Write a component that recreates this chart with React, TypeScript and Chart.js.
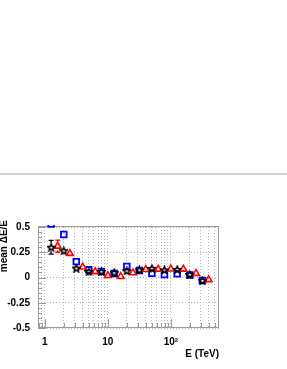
import React, { useEffect, useRef } from "react";
import { Chart, registerables } from "chart.js";

Chart.register(...registerables);

// ---- data ----
const energyBlack = [1.26, 2.0, 3.16, 5.0, 7.9, 12.6, 20, 31.6, 50, 79, 126, 200, 316];
const biasBlack = [0.3, 0.265, 0.093, 0.059, 0.059, 0.048, 0.066, 0.076, 0.09, 0.075, 0.08, 0.03, -0.03];
const errBlack = [0.068, 0, 0, 0, 0, 0, 0, 0, 0, 0, 0, 0, 0];

const energyRed = [1.6, 2.5, 4.0, 6.3, 10, 16, 25, 40, 63, 100, 158, 251, 398];
const biasRed = [0.31, 0.238, 0.103, 0.058, 0.02, 0.01, 0.047, 0.078, 0.082, 0.083, 0.082, 0.04, -0.022];
const errRed = [0.06, 0, 0, 0, 0, 0, 0, 0, 0, 0, 0, 0, 0];

const energyBlue = [1.26, 2.0, 3.16, 5.0, 7.9, 12.6, 20, 31.6, 50, 79, 126, 200, 316];
const biasBlue = [0.53, 0.426, 0.157, 0.076, 0.059, 0.039, 0.11, 0.07, 0.042, 0.03, 0.037, 0.025, -0.03];

const xTickValues = [0.8, 0.9, 1, 2, 3, 4, 5, 6, 7, 8, 9, 10, 20, 30, 40, 50, 60, 70, 80, 90, 100, 200, 300, 400, 500];
const xLabelValues = [1, 10, 100];
const xLabelTexts = ["1", "10", "10\u00B2"];

const yTickValues = [-0.5, -0.25, 0, 0.25, 0.5];
const yTickLabels = ["-0.5", "-0.25", "0", "0.25", "0.5"];

const X_MIN = 0.78;
const X_MAX = 580;
const Y_MIN = -0.5;
const Y_MAX = 0.5;

const xTitle = "E (TeV)";
const yTitle = "mean \u0394E/E";

const FONT = "'Liberation Sans', Arial, Helvetica, sans-serif";

function makeStar(size: number, color: string, lw: number) {
  const c = document.createElement("canvas");
  c.width = size;
  c.height = size;
  const g = c.getContext("2d")!;
  const cx = size / 2;
  const cy = size / 2 + 0.4;
  const R = size / 2 - lw / 2 - 0.1;
  const r = R * 0.48;
  g.beginPath();
  for (let i = 0; i < 10; i++) {
    const a = -Math.PI / 2 + (i * Math.PI) / 5;
    const rr = i % 2 ? r : R;
    const px = cx + rr * Math.cos(a);
    const py = cy + rr * Math.sin(a);
    if (i === 0) g.moveTo(px, py);
    else g.lineTo(px, py);
  }
  g.closePath();
  g.lineWidth = lw;
  g.strokeStyle = color;
  g.stroke();
  return c;
}

const errorBarPlugin = {
  id: "errorBars",
  afterDatasetsDraw(chart: any) {
    const ctx = chart.ctx;
    const yScale = chart.scales.y;
    chart.data.datasets.forEach((ds: any, di: number) => {
      if (!ds.errors) return;
      const meta = chart.getDatasetMeta(di);
      ctx.save();
      ctx.strokeStyle = ds.borderColor;
      ctx.lineWidth = 1.3;
      meta.data.forEach((pt: any, j: number) => {
        const e = ds.errors[j];
        if (!e) return;
        const v = ds.data[j].y;
        const yTop = yScale.getPixelForValue(v + e);
        const yBot = yScale.getPixelForValue(v - e);
        const gap = 4;
        ctx.beginPath();
        ctx.moveTo(pt.x, yTop);
        ctx.lineTo(pt.x, pt.y - gap);
        ctx.moveTo(pt.x, pt.y + gap);
        ctx.lineTo(pt.x, yBot);
        ctx.moveTo(pt.x - 2.5, yTop);
        ctx.lineTo(pt.x + 2.5, yTop);
        ctx.moveTo(pt.x - 2.5, yBot);
        ctx.lineTo(pt.x + 2.5, yBot);
        ctx.stroke();
      });
      ctx.restore();
    });
  },
};

const framePlugin = {
  id: "frame",
  beforeDatasetsDraw(chart: any) {
    const { ctx, chartArea: a, scales } = chart;
    ctx.save();
    ctx.strokeStyle = "#9a9a9a";
    ctx.lineWidth = 1;
    ctx.beginPath();
    xTickValues.forEach((v) => {
      const px = Math.round(scales.x.getPixelForValue(v)) + 0.5;
      const len = xLabelValues.includes(v) ? 9 : 5;
      ctx.moveTo(px, a.bottom);
      ctx.lineTo(px, a.bottom - len);
    });
    for (let k = 0; k <= 20; k++) {
      const v = Y_MIN + k * 0.05;
      const py = Math.round(scales.y.getPixelForValue(v)) + 0.5;
      const len = k % 5 === 0 ? 8 : 4;
      ctx.moveTo(a.left, py);
      ctx.lineTo(a.left + len, py);
    }
    ctx.stroke();
    ctx.strokeRect(a.left + 0.5, a.top - 0.5, a.right - a.left - 1, a.bottom - a.top);
    ctx.restore();
  },
  afterDraw(chart: any) {
    const ctx = chart.ctx;
    ctx.save();
    ctx.font = `bold 10px ${FONT}`;
    ctx.fillStyle = "#000";
    ctx.translate(4, 220);
    ctx.rotate(-Math.PI / 2);
    ctx.textAlign = "right";
    ctx.textBaseline = "middle";
    ctx.fillText(yTitle, 0, 0);
    ctx.restore();
  },
};

export default function App() {
  const ref = useRef<HTMLCanvasElement | null>(null);

  useEffect(() => {
    if (!ref.current) return;
    const star = makeStar(9, "#000000", 1.6);
    const chart = new Chart(ref.current, {
      type: "scatter",
      data: {
        datasets: [
          {
            label: "black",
            data: energyBlack.map((x, i) => ({ x, y: biasBlack[i] })),
            pointStyle: star as any,
            pointRadius: 4.5,
            borderColor: "#000000",
            backgroundColor: "transparent",
            errors: errBlack,
          } as any,
          {
            label: "red",
            data: energyRed.map((x, i) => ({ x, y: biasRed[i] })),
            pointStyle: "triangle",
            pointRadius: 3.9,
            borderWidth: 1.6,
            borderColor: "#ff0000",
            backgroundColor: "transparent",
            errors: errRed,
          } as any,
          {
            label: "blue",
            data: energyBlue.map((x, i) => ({ x, y: biasBlue[i] })),
            pointStyle: "rect",
            pointRadius: 4,
            borderWidth: 1.8,
            borderColor: "#0000ff",
            backgroundColor: "transparent",
            clip: { left: 5, top: 2, right: 5, bottom: 5 },
          } as any,
        ],
      },
      options: {
        animation: false,
        responsive: false,
        maintainAspectRatio: false,
        layout: { padding: { left: 0, top: 227, right: 68, bottom: 0 } },
        plugins: {
          legend: { display: false },
          tooltip: { enabled: false },
        },
        scales: {
          x: {
            type: "logarithmic",
            min: X_MIN,
            max: X_MAX,
            afterBuildTicks: (scale: any) => {
              scale.ticks = xTickValues.map((v) => ({ value: v }));
            },
            afterFit: (scale: any) => {
              scale.height = 41;
            },
            grid: {
              color: "#b4b4b4",
              lineWidth: 1,
              drawTicks: false,
            },
            border: { display: false, dash: [1, 2] },
            ticks: {
              autoSkip: false,
              maxRotation: 0,
              padding: 8,
              color: "#000",
              font: { family: FONT, weight: "bold", size: 10 },
              callback: (value: any) => {
                const idx = xLabelValues.indexOf(Number(value));
                return idx >= 0 ? xLabelTexts[idx] : "";
              },
            },
            title: {
              display: true,
              text: xTitle,
              align: "end",
              color: "#000",
              font: { family: FONT, weight: "bold", size: 10 },
              padding: { top: 0, bottom: 9 },
            },
          },
          y: {
            type: "linear",
            min: Y_MIN,
            max: Y_MAX,
            afterBuildTicks: (scale: any) => {
              scale.ticks = yTickValues.map((v) => ({ value: v }));
            },
            afterFit: (scale: any) => {
              scale.width = 38;
            },
            grid: {
              color: "#b4b4b4",
              lineWidth: 1,
              drawTicks: false,
            },
            border: { display: false, dash: [1, 2] },
            ticks: {
              padding: 8,
              color: "#000",
              font: { family: FONT, weight: "bold", size: 10 },
              callback: (value: any) => {
                const idx = yTickValues.indexOf(Number(value));
                return idx >= 0 ? yTickLabels[idx] : "";
              },
            },
          },
        },
      } as any,
      plugins: [framePlugin, errorBarPlugin],
    });
    return () => chart.destroy();
  }, []);

  return (
    <div>
      <div
        style={{
          position: "absolute",
          left: 0,
          top: 173,
          width: 287,
          height: 2,
          background: "#d0d0d0",
        }}
      />
      <canvas
        ref={ref}
        width={287}
        height={369}
        style={{ position: "absolute", left: 0, top: 0, width: 287, height: 369 }}
      />
    </div>
  );
}
